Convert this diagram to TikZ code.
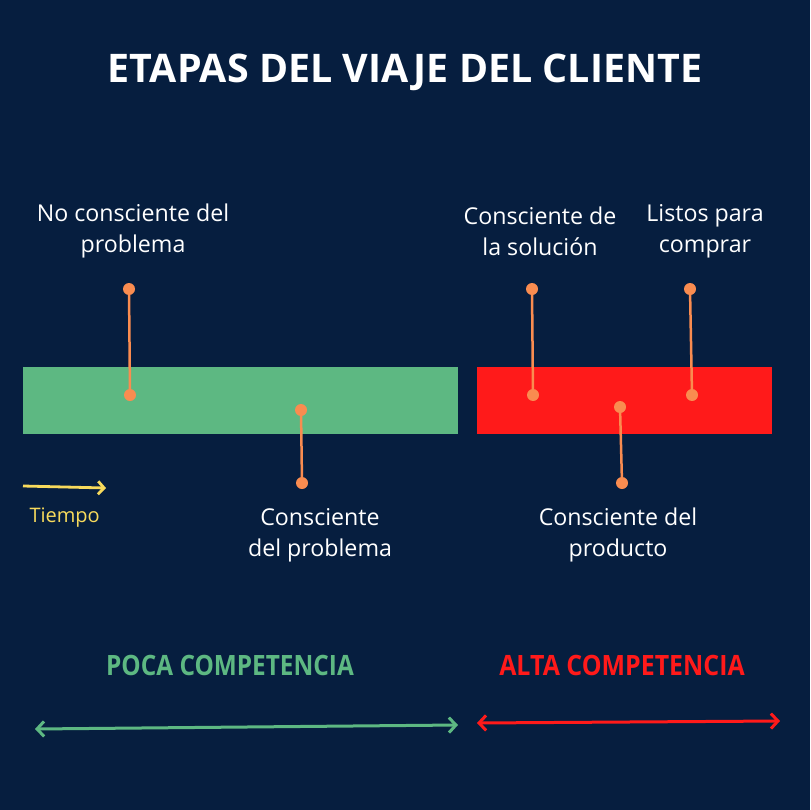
\documentclass[tikz,border=0pt]{standalone}
\usepackage{fontspec}
\setmainfont{Open Sans}
\usetikzlibrary{positioning, arrows.meta}

\definecolor{navy}{HTML}{061E3F}
\definecolor{lowgreen}{HTML}{5DB882}
\definecolor{highred}{HTML}{FF1A1A}
\definecolor{pinorange}{HTML}{F98C50}
\definecolor{timeyellow}{HTML}{F7DA5C}

\begin{document}
\begin{tikzpicture}[x=1pt, y=-1pt, bar/.style={rectangle,
            anchor=north west, inner sep=0pt, minimum height=67pt},
        dot/.style={circle, fill=pinorange, minimum size=12pt,
            inner sep=0pt}, pin/.style={pinorange, line width=2.5pt},
        lbl/.style={text=white, align=center,
            font=\fontsize{23.2}{31}\selectfont}, comp/.style={anchor=base,
            font=\fontsize{28}{30}\selectfont\bfseries},
        span/.style={line width=3pt, {Straight Barb[length=7pt,
            width=15pt]}-{Straight Barb[length=7pt, width=15pt]}}, ]

        \fill[navy] (0,0) rectangle (810,810);

        \node[text=white, anchor=base, font=\fontsize{39.4}{41}\selectfont\bfseries]
        (title) at (405,83) {ETAPAS DEL VIAJE DEL CLIENTE};

        \node[bar, fill=lowgreen, minimum width=435pt] (lowbar) at (23,367) {};
        \node[bar, fill=highred, minimum width=295pt] (highbar) at (477,367) {};

        % pins on the bars
        \node[dot] (p1a) at (129,289) {}; \node[dot] (p1b) at (130,395) {};
        \node[dot] (p2a) at (301,410) {}; \node[dot] (p2b) at (302,483) {};
        \node[dot] (p3a) at (532,289) {}; \node[dot] (p3b) at (533,395) {};
        \node[dot] (p4a) at (620,407) {}; \node[dot] (p4b) at (622,483) {};
        \node[dot] (p5a) at (690,289) {}; \node[dot] (p5b) at (692,395) {};

        \draw[pin] (p1a.center) -- (p1b.center);
        \draw[pin] (p2a.center) -- (p2b.center);
        \draw[pin] (p3a.center) -- (p3b.center);
        \draw[pin] (p4a.center) -- (p4b.center);
        \draw[pin] (p5a.center) -- (p5b.center);

        \node[lbl] (unaware) at (133,231) {No consciente del\\problema};
        \node[lbl] (problem) at (320,535) {Consciente\\del problema};
        \node[lbl] (solution) at (540,231) {Consciente de\\la soluci\'on};
        \node[lbl] (ready) at (705,231) {Listos para\\comprar};
        \node[lbl] (product) at (618,535) {Consciente del\\producto};

        % time arrow
        \coordinate (t0) at (23,486); \coordinate (t1) at (106,488);
        \draw[timeyellow, line width=2.8pt, -{Straight Barb[length=6pt,
            width=13pt]}] (t0) -- (t1);
        \node[text=timeyellow, anchor=base west,
        font=\fontsize{20}{22}\selectfont] (time) at (26,522) {Tiempo};

        \node[comp, text=lowgreen] (low) at (230,675)
        {\scalebox{0.87}[1]{POCA COMPETENCIA}};
        \node[comp, text=highred] (high) at (622,675)
        {\scalebox{0.89}[1]{ALTA COMPETENCIA}};

        \coordinate (l0) at (35,729); \coordinate (l1) at (458,725);
        \coordinate (h0) at (477,723); \coordinate (h1) at (780,721);
        \draw[span, lowgreen] (l0) -- (l1);
        \draw[span, highred] (h0) -- (h1);
    \end{tikzpicture}
\end{document}
